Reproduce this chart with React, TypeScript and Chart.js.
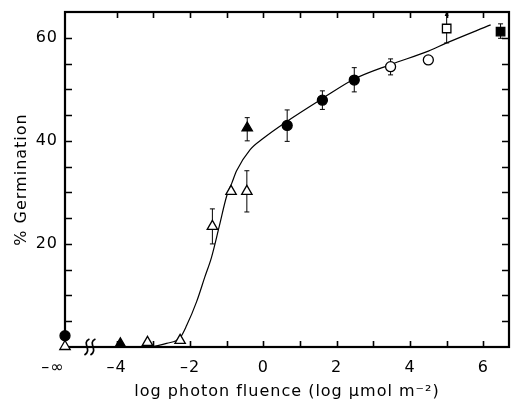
import { useEffect, useRef } from 'react';
import { Chart, registerables } from 'chart.js';

Chart.register(...registerables);

// ---- axis ranges ----
const X_MIN = -5.41;
const X_MAX = 6.7;
const Y_MIN = 0;
const Y_MAX = 65;
const NEG_INF = X_MIN; // position used for the "-∞" control
const BREAK_AT = -4.73;

// ---- tick definitions ----
const xTickValues = [-4, -3, -2, -1, 0, 1, 2, 3, 4, 5, 6];
const xLabelValues = [-4, -2, 0, 2, 4, 6];
const yTickStep = 5;
const yLabelValues = [20, 40, 60];

// ---- data series ----
const filledCircleX = [NEG_INF, 0.65, 1.61, 2.48];
const filledCircleY = [2.2, 43.0, 47.9, 51.8];

const openCircleX = [3.47, 4.5];
const openCircleY = [54.4, 55.7];

const openTriangleX = [NEG_INF, -3.16, -2.27, -1.39, -0.88, -0.45];
const openTriangleY = [0.1, 0.9, 1.3, 23.4, 30.2, 30.2];

const filledTriangleX = [-3.9, -0.44];
const filledTriangleY = [0.6, 42.5];

const openSquareX = [5.0];
const openSquareY = [61.8];

const filledSquareX = [6.47];
const filledSquareY = [61.2];

// fitted curve
const curveX = [-3.0, -2.64, -2.27, -2.09, -1.82, -1.6, -1.41, -1.2, -1.0, -0.86, -0.73, -0.36, 0, 0.65, 1.61, 2.48, 3.47, 4.5, 5.0, 6.2];
const curveY = [0.1, 0.7, 1.8, 4.2, 8.8, 13.5, 17.5, 23.5, 29.3, 31.8, 34.2, 38.3, 40.5, 43.8, 48.2, 52.0, 54.8, 57.4, 59.0, 62.5];

// error bars
const errX = [-1.39, -0.45, -0.44, 0.65, 1.61, 2.48, 3.47, 5.0, 6.47];
const errLow = [20.0, 26.2, 40.0, 39.9, 46.1, 49.5, 52.8, 59.0, 59.9];
const errHigh = [26.8, 34.2, 44.5, 46.0, 49.7, 54.2, 55.9, 64.6, 62.7];
const errArrowUp = [false, false, false, false, false, false, false, true, false];

const FONT = 'DejaVu Sans';

const zip = (xs: number[], ys: number[]) => xs.map((x, i) => ({ x, y: ys[i] }));

const fmt = (v: number) => (v < 0 ? '\u2013' + Math.abs(v) : String(v));

const spacingPlugin = {
  id: 'spacing',
  beforeDraw(chart: any) {
    try {
      (chart.ctx as any).letterSpacing = '1px';
    } catch (e) {
      /* ignore */
    }
  },
};

const framePlugin = {
  id: 'frame',
  beforeDatasetsDraw(chart: any) {
    const { ctx, chartArea: a, scales } = chart;
    const xs = scales.x;
    const ys = scales.y;
    ctx.save();
    ctx.strokeStyle = '#000';
    // frame
    ctx.lineWidth = 2.2;
    ctx.strokeRect(a.left, a.top, a.right - a.left, a.bottom - a.top);
    // inward ticks
    ctx.lineWidth = 1.6;
    ctx.beginPath();
    for (const v of xTickValues) {
      const px = Math.round(xs.getPixelForValue(v)) + 0.5;
      ctx.moveTo(px, a.bottom);
      ctx.lineTo(px, a.bottom - 6);
      ctx.moveTo(px, a.top);
      ctx.lineTo(px, a.top + 6);
    }
    for (let v = yTickStep; v < Y_MAX; v += yTickStep) {
      const py = Math.round(ys.getPixelForValue(v)) + 0.5;
      ctx.moveTo(a.left, py);
      ctx.lineTo(a.left + 7, py);
      ctx.moveTo(a.right, py);
      ctx.lineTo(a.right - 7, py);
    }
    ctx.stroke();

    // axis break marks
    const bx = xs.getPixelForValue(BREAK_AT);
    const by = a.bottom;
    ctx.lineWidth = 1.7;
    for (const dx of [-3, 3]) {
      ctx.beginPath();
      ctx.moveTo(bx + dx + 2.5, by - 8);
      ctx.bezierCurveTo(bx + dx - 6, by - 4, bx + dx + 6, by + 3, bx + dx - 2.5, by + 8);
      ctx.stroke();
    }

    // error bars
    ctx.lineWidth = 1;
    for (let i = 0; i < errX.length; i++) {
      const px = xs.getPixelForValue(errX[i]);
      const lo = ys.getPixelForValue(errLow[i]);
      const hi = ys.getPixelForValue(errHigh[i]);
      ctx.beginPath();
      ctx.moveTo(px, lo);
      ctx.lineTo(px, hi);
      ctx.moveTo(px - 2.5, lo);
      ctx.lineTo(px + 2.5, lo);
      if (!errArrowUp[i]) {
        ctx.moveTo(px - 2.5, hi);
        ctx.lineTo(px + 2.5, hi);
      }
      ctx.stroke();
      if (errArrowUp[i]) {
        ctx.beginPath();
        ctx.moveTo(px, hi - 3);
        ctx.lineTo(px - 2, hi + 2);
        ctx.lineTo(px + 2, hi + 2);
        ctx.closePath();
        ctx.fillStyle = '#000';
        ctx.fill();
      }
    }
    ctx.restore();
  },
};

export default function App() {
  const ref = useRef<HTMLCanvasElement | null>(null);

  useEffect(() => {
    document.body.style.margin = '0';
    const canvas = ref.current;
    if (!canvas) return;

    const pointBase = {
      type: 'scatter' as const,
      showLine: false,
      borderColor: '#000',
      borderWidth: 1.3,
      clip: false as any,
    };

    const chart = new Chart(canvas, {
      type: 'scatter',
      data: {
        datasets: [
          {
            type: 'line',
            data: zip(curveX, curveY),
            borderColor: '#000',
            borderWidth: 1.2,
            pointRadius: 0,
            fill: false,
            cubicInterpolationMode: 'monotone',
            order: 10,
          } as any,
          { ...pointBase, data: zip(filledCircleX, filledCircleY), pointStyle: 'circle', pointRadius: 5, backgroundColor: '#000' },
          { ...pointBase, data: zip(openCircleX, openCircleY), pointStyle: 'circle', pointRadius: 5, backgroundColor: '#fff' },
          { ...pointBase, data: zip(openTriangleX, openTriangleY), pointStyle: 'triangle', pointRadius: 6, backgroundColor: '#fff' },
          { ...pointBase, data: zip(filledTriangleX, filledTriangleY), pointStyle: 'triangle', pointRadius: 6, backgroundColor: '#000' },
          { ...pointBase, data: zip(openSquareX, openSquareY), pointStyle: 'rect', pointRadius: 6, backgroundColor: '#fff' },
          { ...pointBase, data: zip(filledSquareX, filledSquareY), pointStyle: 'rect', pointRadius: 6, backgroundColor: '#000' },
        ] as any,
      },
      options: {
        animation: false,
        responsive: false,
        devicePixelRatio: 1,
        layout: { autoPadding: false, padding: { top: 12, right: 2, left: 0, bottom: 0 } },
        plugins: { legend: { display: false }, tooltip: { enabled: false } },
        scales: {
          x: {
            type: 'linear',
            min: X_MIN,
            max: X_MAX,
            border: { display: false },
            grid: { display: false, drawTicks: false },
            afterBuildTicks: (scale: any) => {
              scale.ticks = [NEG_INF, ...xTickValues].map((v) => ({ value: v }));
            },
            afterFit: (scale: any) => {
              scale.height = 53;
              scale.paddingLeft = 0;
              scale.paddingRight = 0;
            },
            ticks: {
              autoSkip: false,
              maxRotation: 0,
              padding: 11,
              color: '#000',
              font: { family: FONT, size: 16 },
              callback: (v: any) => {
                const n = Number(v);
                if (n === NEG_INF) return '\u2013\u221E    ';
                return xLabelValues.includes(n) ? fmt(n) : '';
              },
            },
            title: {
              display: true,
              text: 'log photon fluence (log \u00B5mol m\u207B\u00B2)',
              color: '#000',
              font: { family: FONT, size: 16, lineHeight: 1 },
              padding: 0,
            },
          },
          y: {
            type: 'linear',
            min: Y_MIN,
            max: Y_MAX,
            border: { display: false },
            grid: { display: false, drawTicks: false },
            afterFit: (scale: any) => {
              scale.width = 65;
              scale.paddingTop = 0;
              scale.paddingBottom = 0;
            },
            ticks: {
              stepSize: yTickStep,
              padding: 7,
              color: '#000',
              font: { family: FONT, size: 16 },
              callback: (v: any) => (yLabelValues.includes(Number(v)) ? String(v) : ''),
            },
            title: {
              display: true,
              text: '% Germination',
              color: '#000',
              font: { family: FONT, size: 16, lineHeight: 1.2 },
              padding: { top: 12, bottom: 0 },
            },
          },
        },
      } as any,
      plugins: [spacingPlugin, framePlugin],
    });

    return () => chart.destroy();
  }, []);

  return (
    <div style={{ position: 'absolute', left: 0, top: 0, width: 511, height: 400, background: '#fff' }}>
      <canvas ref={ref} width={511} height={400} style={{ display: 'block' }} />
    </div>
  );
}
